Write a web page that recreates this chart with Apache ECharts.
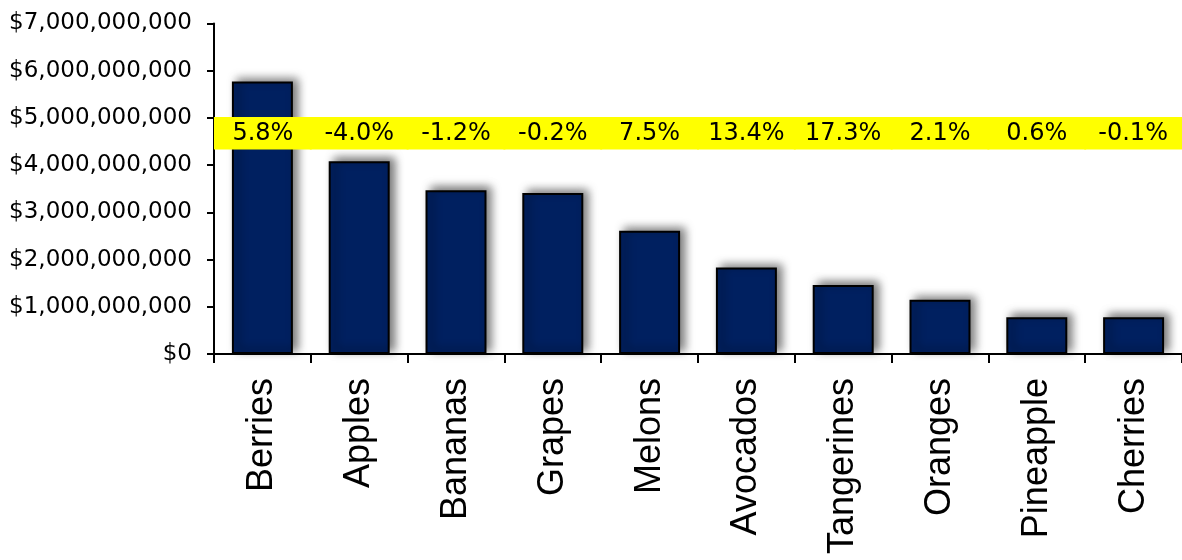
<!DOCTYPE html>
<html>
<head>
<meta charset="utf-8">
<script src="https://cdn.jsdelivr.net/npm/echarts@6/dist/echarts.min.js"></script>
<style>
html,body{margin:0;padding:0;background:#fff;}
#chart{width:1182px;height:560px;}
</style>
</head>
<body>
<div id="chart"></div>
<script>
var categories = ['Berries','Apples','Bananas','Grapes','Melons','Avocados','Tangerines','Oranges','Pineapple','Cherries'];
var sales = [5.77e9, 4.08e9, 3.47e9, 3.41e9, 2.61e9, 1.83e9, 1.46e9, 1.15e9, 0.78e9, 0.78e9];
var growth = ['5.8%','-4.0%','-1.2%','-0.2%','7.5%','13.4%','17.3%','2.1%','0.6%','-0.1%'];
var bandLow = 4.33e9;
var bandHigh = 5.02e9;

var chart = echarts.init(document.getElementById('chart'), null, {renderer:'canvas'});
var baseVals = categories.map(function(){return bandLow;});
var bandVals = categories.map(function(){return bandHigh - bandLow;});

chart.setOption({
  animation:false,
  backgroundColor:'#ffffff',
  grid:{left:214, right:0, top:23.5, bottom:206, containLabel:false},
  xAxis:[{
    type:'category', data:categories,
    axisLine:{lineStyle:{color:'#000', width:2}},
    axisTick:{show:true, length:9, lineStyle:{color:'#000', width:2}},
    axisLabel:{rotate:90, margin:24, fontSize:36, fontFamily:'Liberation Sans', color:'#000', interval:0}
  },{
    type:'category', data:categories, show:false, position:'bottom'
  }],
  yAxis:{
    type:'value', min:0, max:7e9, interval:1e9,
    splitLine:{show:false},
    axisLine:{show:true, lineStyle:{color:'#000', width:2}},
    axisTick:{show:true, length:7, lineStyle:{color:'#000', width:2}},
    axisLabel:{margin:22, fontSize:23, fontFamily:'DejaVu Sans', color:'#000',
      formatter:function(v){return '$' + Math.round(v).toLocaleString('en-US');}}
  },
  series:[{
    type:'bar', data:sales, xAxisIndex:0, barCategoryGap:'37%', z:2,
    itemStyle:{color:'#002060', borderColor:'#000', borderWidth:2,
      shadowColor:'rgba(0,0,0,0.55)', shadowBlur:9, shadowOffsetX:5, shadowOffsetY:-3}
  },{
    type:'bar', data:baseVals, xAxisIndex:1, stack:'band', barWidth:'102%', z:3,
    itemStyle:{color:'rgba(0,0,0,0)'}, silent:true
  },{
    type:'bar', data:bandVals, xAxisIndex:1, stack:'band', barWidth:'102%', z:3,
    itemStyle:{color:'#FFFF00'},
    label:{show:true, position:'inside', fontSize:24, fontFamily:'DejaVu Sans', color:'#000',
      formatter:function(p){return growth[p.dataIndex];}}
  }]
});
</script>
</body>
</html>
